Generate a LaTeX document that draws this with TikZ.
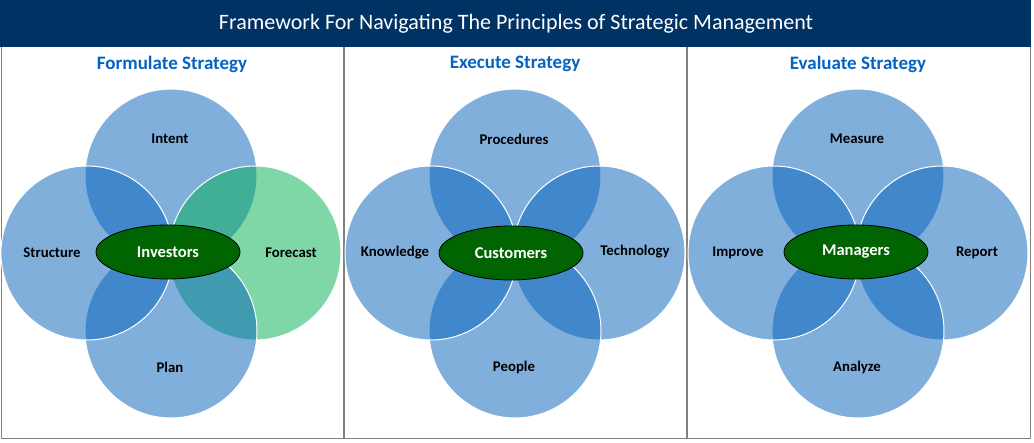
\documentclass[tikz,border=0pt]{standalone}
\usepackage{fontspec}
\setmainfont{Carlito}
\usetikzlibrary{shapes.geometric}

\definecolor{navy}{RGB}{0,50,100}
\definecolor{headblue}{RGB}{5,99,193}
\definecolor{ringblue}{RGB}{3,96,186}
\definecolor{ringgreen}{RGB}{0,176,80}
\definecolor{coregreen}{RGB}{0,100,0}
\definecolor{framegray}{RGB}{128,128,128}

\begin{document}
\begin{tikzpicture}[x=1pt,y=-1pt,
ring/.style={ellipse,minimum width=172pt,minimum height=174pt,inner sep=0pt,fill=ringblue,fill opacity=0.5,draw=white,line width=1pt},
core/.style={ellipse,minimum width=144pt,minimum height=54pt,inner sep=0pt,fill=coregreen,draw=black,line width=0.8pt,text=white,font=\fontsize{16.5}{17}\selectfont\bfseries},
lbl/.style={font=\fontsize{14.8}{15}\selectfont\bfseries},
head/.style={font=\fontsize{19}{20}\selectfont\bfseries,text=headblue},
frame/.style={draw=framegray,line width=1.5pt} ]

\useasboundingbox (0,0) rectangle (1034,443);

% title bar
\fill[navy] (0,0) rectangle (1031,47);
\node[text=white,font=\fontsize{22}{23}\selectfont] (title) at (516,24) {Framework For Navigating The Principles of Strategic Management};

% panel frames
\draw[frame] (1.5,47) -- (1.5,438.5) -- (1030.5,438.5) -- (1030.5,47);
\draw[frame] (344,47) -- (344,438.5);
\draw[frame] (687,47) -- (687,438.5);

% formulate
\node[head] (h1) at (172,64) {Formulate Strategy};
\node[ring] (f1) at (171,176) {};
\node[ring,fill=ringgreen] (f2) at (255,253) {};
\node[ring] (f3) at (171,331) {};
\node[ring] (f4) at (87,253) {};
\node[lbl] (l1) at (170,139) {Intent};
\node[lbl] (l2) at (291,253) {Forecast};
\node[lbl] (l3) at (170,367) {Plan};
\node[lbl] (l4) at (52,253) {Structure};
\node[core] (c1) at (168,252) {Investors};

% execute
\node[head] (h2) at (515,64) {Execute Strategy};
\node[ring] (e1) at (515,176) {};
\node[ring] (e2) at (599,253) {};
\node[ring] (e3) at (515,331) {};
\node[ring] (e4) at (431,253) {};
\node[lbl] (m1) at (514,139) {Procedures};
\node[lbl] (m2) at (635,252) {Technology};
\node[lbl] (m3) at (514,367) {People};
\node[lbl] (m4) at (395,253) {Knowledge};
\node[core] (c2) at (511,253) {Customers};

% evaluate
\node[head] (h3) at (858,64) {Evaluate Strategy};
\node[ring] (v1) at (858,176) {};
\node[ring] (v2) at (942,253) {};
\node[ring] (v3) at (858,331) {};
\node[ring] (v4) at (774,253) {};
\node[lbl] (n1) at (857,139) {Measure};
\node[lbl] (n2) at (977,253) {Report};
\node[lbl] (n3) at (857,367) {Analyze};
\node[lbl] (n4) at (738,253) {Improve};
\node[core] (c3) at (856,252) {Managers};

\end{tikzpicture}
\end{document}
